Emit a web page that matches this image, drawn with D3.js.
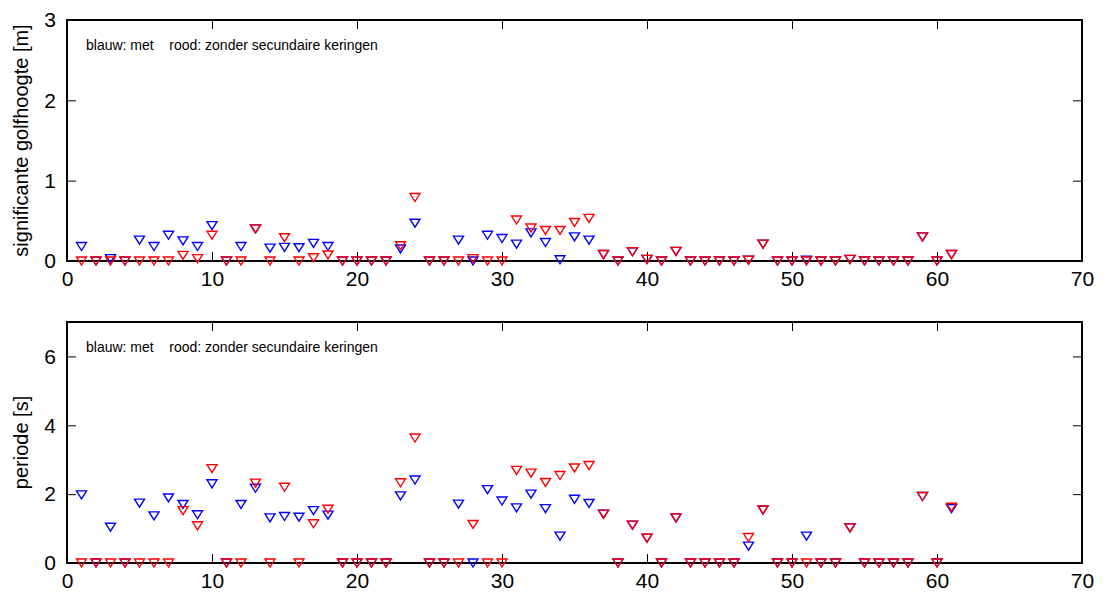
<!DOCTYPE html>
<html>
<head>
<meta charset="utf-8">
<script src="https://cdn.jsdelivr.net/npm/d3@7"></script>
<style>
  body { margin: 0; background: #fff; }
  svg { font-family: "Liberation Sans", Arial, sans-serif; }
</style>
</head>
<body>
<svg id="chart" width="1105" height="593"></svg>
<script>
// x positions: 1..61
var xs = d3.range(1, 62);

// significante golfhoogte [m]
var hBlue = [0.18, 0, 0.03, 0, 0.26, 0.18, 0.32, 0.25, 0.18, 0.44,
    0, 0.18, 0.40, 0.16, 0.17, 0.165, 0.22, 0.18, 0, 0,
    0, 0, 0.15, 0.47, 0, 0, 0.26, 0, 0.32, 0.28,
    0.21, 0.35, 0.23, 0.015, 0.30, 0.26, 0.08, 0, 0.115, 0.02,
    0, 0.12, 0, 0, 0, 0, 0.01, 0.21, 0, 0,
    0.01, 0, 0, 0.02, 0, 0, 0, 0, 0.30, 0,
    0.08];
var hRed = [0, 0, 0, 0, 0, 0, 0, 0.07, 0.03, 0.32,
    0, 0, 0.40, 0, 0.29, 0, 0.04, 0.075, 0, 0,
    0, 0, 0.19, 0.79, 0, 0, 0, 0.03, 0, 0,
    0.51, 0.41, 0.38, 0.38, 0.48, 0.53, 0.08, 0, 0.115, 0.02,
    0, 0.12, 0, 0, 0, 0, 0.01, 0.21, 0, 0,
    0, 0, 0, 0.02, 0, 0, 0, 0, 0.30, 0,
    0.08];

// periode [s]
var tBlue = [1.98, 0, 1.04, 0, 1.74, 1.37, 1.89, 1.70, 1.40, 2.30,
    0, 1.70, 2.17, 1.31, 1.35, 1.33, 1.52, 1.39, 0, 0,
    0, 0, 1.95, 2.41, 0, 0, 1.71, 0, 2.13, 1.80,
    1.60, 2.00, 1.58, 0.78, 1.85, 1.73, 1.42, 0, 1.10, 0.72,
    0, 1.31, 0, 0, 0, 0, 0.49, 1.54, 0, 0,
    0.78, 0, 0, 1.02, 0, 0, 0, 0, 1.93, 0,
    1.58];
var tRed = [0, 0, 0, 0, 0, 0, 0, 1.52, 1.08, 2.74,
    0, 0, 2.32, 0, 2.20, 0, 1.14, 1.56, 0, 0,
    0, 0, 2.33, 3.63, 0, 0, 0, 1.12, 0, 0,
    2.69, 2.61, 2.34, 2.54, 2.76, 2.83, 1.42, 0, 1.10, 0.72,
    0, 1.31, 0, 0, 0, 0, 0.74, 1.54, 0, 0,
    0, 0, 0, 1.02, 0, 0, 0, 0, 1.93, 0,
    1.62];

var xTicks = [0, 10, 20, 30, 40, 50, 60, 70];
var legendText = "blauw: met    rood: zonder secundaire keringen";

var svg = d3.select("#chart");
var left = 67, right = 1082;

var x = d3.scaleLinear().domain([0, 70]).range([left, right]);

// downward triangle, centred on the data point
var tri = "M-5,-4L5,-4L0,4Z";

function panel(top, bottom, yMax, yTicks, label, blue, red) {
    var y = d3.scaleLinear().domain([0, yMax]).range([bottom, top]);
    var g = svg.append("g");

    // axes with inward ticks
    g.append("g")
        .attr("transform", "translate(0," + bottom + ")")
        .call(d3.axisBottom(x).tickValues(xTicks).tickFormat(d3.format("d"))
            .tickSizeInner(-9).tickSizeOuter(0).tickPadding(10));
    g.append("g")
        .attr("transform", "translate(0," + top + ")")
        .call(d3.axisTop(x).tickValues(xTicks).tickSizeInner(-9).tickSizeOuter(0).tickFormat(""));
    g.append("g")
        .attr("transform", "translate(" + left + ",0)")
        .call(d3.axisLeft(y).tickValues(yTicks).tickFormat(d3.format("d"))
            .tickSizeInner(-9).tickSizeOuter(0).tickPadding(11));
    g.append("g")
        .attr("transform", "translate(" + right + ",0)")
        .call(d3.axisRight(y).tickValues(yTicks).tickSizeInner(-9).tickSizeOuter(0).tickFormat(""));

    g.selectAll(".domain").remove();
    g.selectAll(".tick line").attr("stroke", "#000").attr("stroke-width", 1);
    g.selectAll(".tick text").attr("fill", "#000").style("font-size", "21px");

    // box
    g.append("rect")
        .attr("x", left).attr("y", top)
        .attr("width", right - left).attr("height", bottom - top)
        .attr("fill", "none").attr("stroke", "#000").attr("stroke-width", 2);

    g.append("text")
        .attr("x", 86).attr("y", top + 30)
        .style("font-size", "14px")
        .attr("xml:space", "preserve")
        .style("white-space", "pre")
        .text(legendText);

    g.append("text")
        .attr("transform", "translate(28," + ((top + bottom) / 2) + ") rotate(-90)")
        .attr("text-anchor", "middle")
        .style("font-size", "20px")
        .text(label);

    g.append("g").selectAll("path")
        .data(xs)
        .enter()
        .append("path")
        .attr("d", tri)
        .attr("transform", function(d, i) {
            return "translate(" + x(d) + "," + y(blue[i]) + ")";
        })
        .attr("fill", "none")
        .attr("stroke", "#0000ff")
        .attr("stroke-width", 1.4);

    g.append("g").selectAll("path")
        .data(xs)
        .enter()
        .append("path")
        .attr("d", tri)
        .attr("transform", function(d, i) {
            return "translate(" + x(d) + "," + y(red[i]) + ")";
        })
        .attr("fill", "none")
        .attr("stroke", "#ff0000")
        .attr("stroke-width", 1.4);
}

panel(20, 261, 3, [0, 1, 2, 3], "significante golfhoogte [m]", hBlue, hRed);
panel(322, 563, 7, [0, 2, 4, 6], "periode [s]", tBlue, tRed);
</script>
</body>
</html>
